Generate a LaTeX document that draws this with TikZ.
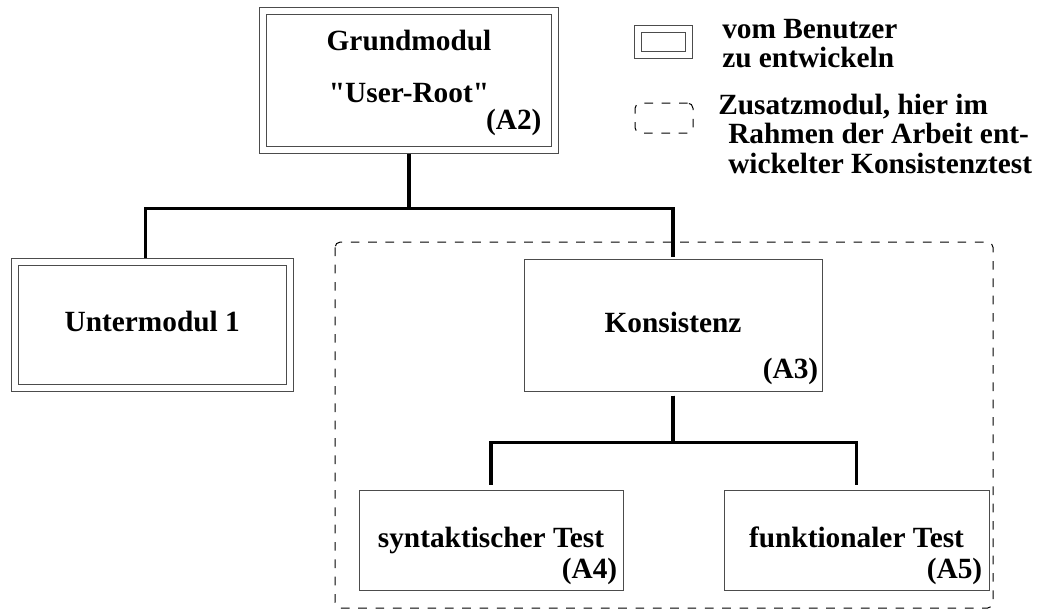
\documentclass[tikz,border=0pt]{standalone}
\usepackage{fontspec}
\setmainfont{Liberation Serif}[Ligatures=TeXOff]
\usetikzlibrary{positioning, calc}

\begin{document}
\begin{tikzpicture}[
  x=0.75pt, y=-0.75pt,
  font=\bfseries\fontsize{22}{22}\selectfont,
  usermod/.style={rectangle, draw=black!70, line width=0.75pt, double, double distance=4.5pt,
                  inner sep=0pt, text height=15pt, text depth=4pt},
  testmod/.style={rectangle, draw=black!70, line width=0.75pt,
                  inner sep=0pt, text height=15pt, text depth=4pt},
  addon/.style={draw, dash pattern=on 6.5pt off 6.5pt, rounded corners=4pt, line width=0.75pt},
  lbl/.style={anchor=base, inner sep=0pt},
  tag/.style={anchor=base east, inner sep=0pt},
  conn/.style={line width=2.3pt}
]
  \useasboundingbox (0,0) rectangle (1044,611);

  % modules
  \node[usermod, minimum width=219.4pt, minimum height=103.9pt] (grund) at (409,80.75) {};
  \node[lbl] (grundname) at (409,50) {Grundmodul};
  \node[lbl] (grundroot) at (409,102) {"User-Root"};
  \node[tag] (a2) at ($(grund.south east)+(-14,-21)$) {(A2)};

  \node[usermod, minimum width=205.9pt, minimum height=94.5pt] (unter) at (152.25,324.5) {Untermodul 1};

  \node[testmod, minimum width=223.5pt, minimum height=99pt] (kons) at (673,325) {Konsistenz};
  \node[tag] (a3) at ($(kons.south east)+(-4,-13)$) {(A3)};

  \node[testmod, minimum width=198pt, minimum height=75pt] (syn) at (491,540) {syntaktischer Test};
  \node[tag] (a4) at ($(syn.south east)+(-6,-12)$) {(A4)};

  \node[testmod, minimum width=198.75pt, minimum height=75pt] (funk) at (856.5,540) {funktionaler Test};
  \node[tag] (a5) at ($(funk.south east)+(-7,-12)$) {(A5)};

  % frame round the consistency test
  \draw[addon] (335,242) rectangle (993,608);

  % tree lines
  \draw[conn, shorten <=2.6pt, shorten >=2.6pt] (grund.south) -- ++(0,58) -| ([xshift=-5.25pt]unter.north);
  \draw[conn, shorten <=2.6pt, shorten >=1.5pt] (grund.south) -- ++(0,58) -| (kons.north);
  \draw[conn, shorten <=3pt, shorten >=3.75pt] (kons.south) -- ++(0,51) -| (syn.north);
  \draw[conn, shorten <=3pt, shorten >=3.75pt] (kons.south) -- ++(0,51) -| (funk.north);

  % key
  \node[usermod, minimum width=38.6pt, minimum height=18.75pt] (keyuser) at (663.75,42) {};
  \node[anchor=north west, align=left, inner sep=0pt] (keyusertext) at (722,19)
    {vom Benutzer\\zu entwickeln};
  \node[addon, minimum width=43.5pt, minimum height=22.5pt, inner sep=0pt] (keyaddon) at (664,118) {};
  \node[anchor=north west, align=left, inner sep=0pt] (keyaddontext) at (718,94)
    {Zusatzmodul, hier im\\\hspace*{7.5pt}Rahmen der Arbeit ent-\\\hspace*{7.5pt}wickelter Konsistenztest};
\end{tikzpicture}
\end{document}
